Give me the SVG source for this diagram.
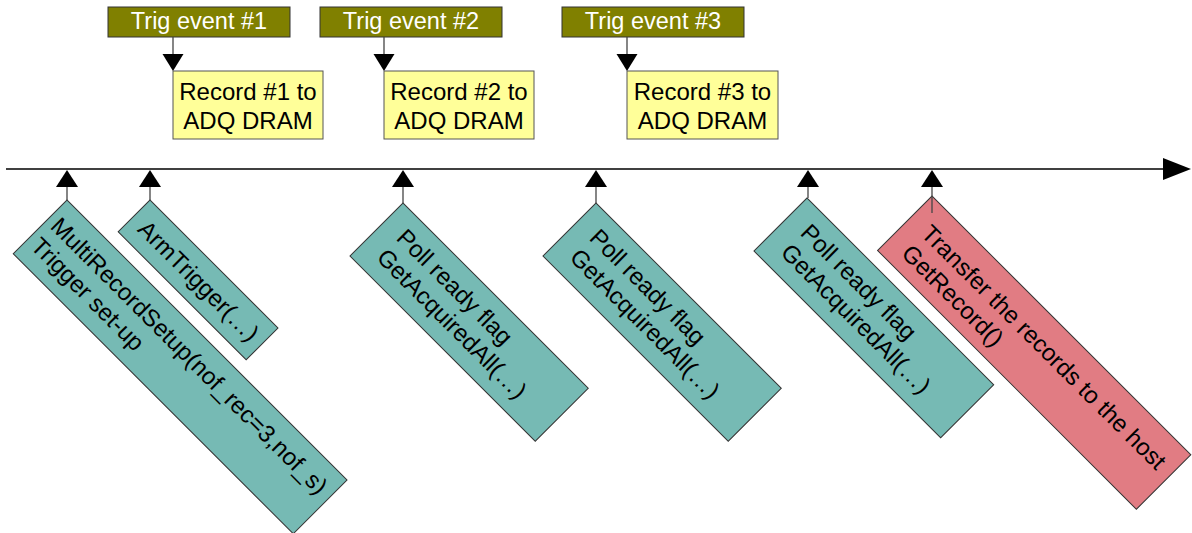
<svg xmlns="http://www.w3.org/2000/svg" width="1192" height="533" viewBox="0 0 1192 533">
<style>
.trig{fill:#808000;stroke:#333;stroke-width:1}
.trigt{fill:#fff;font-family:"Liberation Sans",Arial,sans-serif;font-size:23.5px;text-anchor:middle}
.rec{fill:#ffff99;stroke:#555;stroke-width:1}
.t{fill:#000;font-family:"Liberation Sans",Arial,sans-serif;font-size:24px}
.c{text-anchor:middle}
.teal{fill:#76bab4;stroke:#333;stroke-width:1}
.pink{fill:#e17c83;stroke:#333;stroke-width:1}
.stem{stroke:#444;stroke-width:1.3;fill:none}
.head{fill:#000}
</style>
<rect width="1192" height="533" fill="#fff"/>
<g id="trig1"><rect class="trig" x="108" y="7" width="182" height="30"/><text class="trigt" x="199" y="29">Trig event #1</text></g>
<g id="trig2"><rect class="trig" x="320" y="7" width="182" height="30"/><text class="trigt" x="411" y="29">Trig event #2</text></g>
<g id="trig3"><rect class="trig" x="562" y="7" width="182" height="30"/><text class="trigt" x="653" y="29">Trig event #3</text></g>
<g id="rec1"><rect class="rec" x="173" y="71" width="150" height="68"/><text class="t c" x="248" y="99.5">Record #1 to</text><text class="t c" x="248" y="128.5">ADQ DRAM</text></g>
<g id="rec2"><rect class="rec" x="384" y="71" width="150" height="68"/><text class="t c" x="459" y="99.5">Record #2 to</text><text class="t c" x="459" y="128.5">ADQ DRAM</text></g>
<g id="rec3"><rect class="rec" x="627" y="71" width="151" height="68"/><text class="t c" x="702.5" y="99.5">Record #3 to</text><text class="t c" x="702.5" y="128.5">ADQ DRAM</text></g>
<g id="setup" transform="translate(67,200) rotate(45)"><rect class="teal" width="396" height="76"/><text class="t" x="7" y="32">MultiRecordSetup(nof_rec=3,nof_s)</text><text class="t" x="7" y="60">Trigger set-up</text></g>
<g id="arm" transform="translate(150,200) rotate(45)"><rect class="teal" width="181" height="45"/><text class="t" x="12" y="31">ArmTrigger(…)</text></g>
<g id="poll1" transform="translate(403,203) rotate(45)"><rect class="teal" width="262" height="75"/><text class="t" x="20" y="31">Poll ready flag</text><text class="t" x="20" y="59">GetAcquiredAll(…)</text></g>
<g id="poll2" transform="translate(596,203) rotate(45)"><rect class="teal" width="262" height="75"/><text class="t" x="20" y="31">Poll ready flag</text><text class="t" x="20" y="59">GetAcquiredAll(…)</text></g>
<g id="poll3" transform="translate(807,198) rotate(45)"><rect class="teal" width="264" height="75"/><text class="t" x="20" y="31">Poll ready flag</text><text class="t" x="20" y="59">GetAcquiredAll(…)</text></g>
<g id="transfer" transform="translate(932,196) rotate(45)"><rect class="pink" width="366" height="77"/><text class="t" x="19" y="36">Transfer the records to the host</text><text class="t" x="19" y="64">GetRecord()</text></g>
<g id="connectors">
<line x1="6" y1="169" x2="1165" y2="169" stroke="#000" stroke-width="1.5"/>
<polygon class="head" points="1163,158 1191,169 1163,180"/>
<line class="stem" x1="173" y1="37" x2="173" y2="55"/><polygon class="head" points="162.5,54 183.5,54 173,71"/>
<line class="stem" x1="384" y1="37" x2="384" y2="55"/><polygon class="head" points="373.5,54 394.5,54 384,71"/>
<line class="stem" x1="627" y1="37" x2="627" y2="55"/><polygon class="head" points="616.5,54 637.5,54 627,71"/>
<line class="stem" x1="67" y1="186" x2="67" y2="200"/><polygon class="head" points="56,187 78,187 67,170"/>
<line class="stem" x1="150" y1="186" x2="150" y2="200"/><polygon class="head" points="139,187 161,187 150,170"/>
<line class="stem" x1="403" y1="186" x2="403" y2="203"/><polygon class="head" points="392,187 414,187 403,170"/>
<line class="stem" x1="596" y1="186" x2="596" y2="203"/><polygon class="head" points="585,187 607,187 596,170"/>
<line class="stem" x1="808" y1="186" x2="808" y2="198"/><polygon class="head" points="797,187 819,187 808,170"/>
<line class="stem" x1="932" y1="186" x2="932" y2="213"/><polygon class="head" points="921,187 943,187 932,170"/>
</g>
</svg>
